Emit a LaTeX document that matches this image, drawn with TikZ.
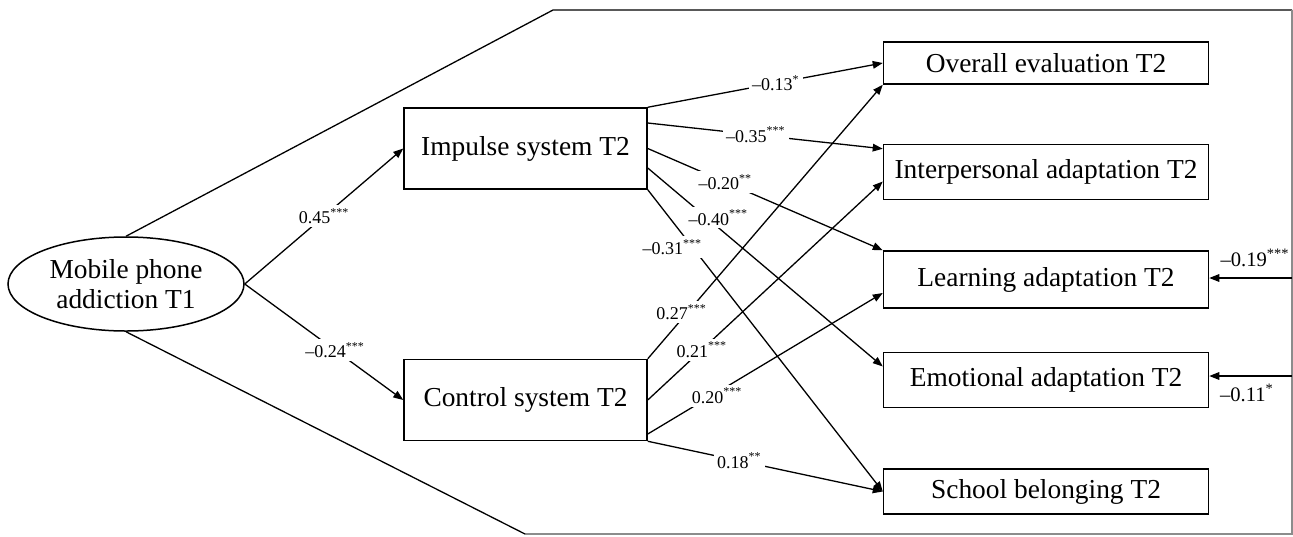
\documentclass[tikz,border=0pt]{standalone}
\usepackage{fontspec}
\setmainfont{Liberation Serif}
\usepackage{tikz}
\usetikzlibrary{shapes.geometric, arrows.meta, positioning}
\tikzstyle{arrow} = [line width=0.65pt,-{Triangle[length=5pt,width=3.8pt]}]

\begin{document}
\begin{tikzpicture}[x=0.5pt, y=-0.5pt]
    \tikzstyle{var} = [rectangle, draw, line width=0.75pt, minimum width=162.5pt, text centered, font=\fontsize{13.7}{15}\selectfont]
    \tikzstyle{system} = [rectangle, draw, line width=0.75pt, minimum width=121.5pt, minimum height=40.5pt, text centered, font=\fontsize{13.7}{15}\selectfont]
    \tikzstyle{coef} = [fill=white, inner sep=1.5pt, font=\fontsize{9}{11}\selectfont]
    \tikzstyle{cov} = [inner sep=1pt, font=\fontsize{10.3}{12}\selectfont]

    \useasboundingbox (0,0) rectangle (1293,536);

    % predictor, mediators
    \node[ellipse, draw, line width=0.75pt, minimum width=118pt, minimum height=47pt, inner sep=0pt, align=center, font=\fontsize{13.7}{15}\selectfont] (addict) at (126,284) {Mobile phone\\addiction T1};
    \node[system] (impulse) at (525.5,148.5) {Impulse system T2};
    \node[system, below=84.5pt of impulse] (control) {Control system T2};

    % outcomes
    \node[var, minimum height=21pt] (overall) at (1046,63) {Overall evaluation T2};
    \node[var, minimum height=27.5pt, below=29.5pt of overall] (interp) {Interpersonal adaptation T2};
    \node[var, minimum height=28.5pt, below=25pt of interp] (learning) {Learning adaptation T2};
    \node[var, minimum height=27.5pt, below=21.5pt of learning] (emotion) {Emotional adaptation T2};
    \node[var, minimum height=22.5pt, below=30pt of emotion] (school) {School belonging T2};

    % outer frame
    \coordinate (topbend) at (553,10);
    \coordinate (topright) at (1292,10);
    \coordinate (botright) at (1292,534);
    \coordinate (botbend) at (525,534);
    \draw[line width=0.65pt] (addict.north) -- (topbend) -- (topright);
    \draw[line width=0.65pt, black!45] (topright) -- (botright) -- (botbend);
    \draw[line width=0.65pt] (botbend) -- (addict.south);

    % a paths
    \draw[arrow] (addict.east) -- node[coef, pos=0.5] (c1) {0.45\textsuperscript{***}} (impulse.west);
    \draw[arrow] (addict.east) -- node[coef, pos=0.57] (c2) {\textendash0.24\textsuperscript{***}} (control.west);

    % impulse system paths
    \draw[arrow] (impulse.north east) -- node[coef, pos=0.545] (c3) {\textendash0.13\textsuperscript{*}} (overall.west);
    \draw[arrow] ([yshift=12.75pt]impulse.east) -- node[coef, pos=0.46] (c4) {\textendash0.35\textsuperscript{***}} ([yshift=-2.5pt]interp.north west);
    \draw[arrow] (impulse.east) -- node[coef, pos=0.33] (c5) {\textendash0.20\textsuperscript{**}} (learning.north west);
    \draw[arrow] ([yshift=-9.75pt]impulse.east) -- node[coef, pos=0.3, yshift=5pt] (c6) {\textendash0.40\textsuperscript{***}} ([yshift=6.75pt]emotion.west);
    \draw[arrow] (impulse.south east) -- node[coef, pos=0.19, xshift=-10pt] (c7) {\textendash0.31\textsuperscript{***}} (school.west);

    % control system paths
    \draw[arrow] (control.north east) -- node[coef, pos=0.17, xshift=-3pt] (c8) {0.27\textsuperscript{***}} (overall.south west);
    \draw[arrow] (control.east) -- node[coef, pos=0.23] (c9) {0.21\textsuperscript{***}} ([yshift=-4.75pt]interp.west);
    \draw[arrow] ([yshift=-17pt]control.east) -- node[coef, pos=0.27, xshift=3pt] (c10) {0.20\textsuperscript{***}} ([yshift=-6.75pt]learning.west);
    \draw[arrow] (control.south east) -- node[coef, pos=0.39] (c11) {0.18\textsuperscript{**}} (school.west);

    % covariate paths
    \coordinate (covlearn) at (1292,278);
    \coordinate (covemo) at (1292,376);
    \draw[arrow] (covlearn) -- (covlearn -| learning.east);
    \draw[arrow] (covemo) -- (covemo -| emotion.east);
    \node[cov] (c12) at (1255,258) {\textendash0.19\textsuperscript{***}};
    \node[cov] (c13) at (1247,393) {\textendash0.11\textsuperscript{*}};
\end{tikzpicture}
\end{document}
